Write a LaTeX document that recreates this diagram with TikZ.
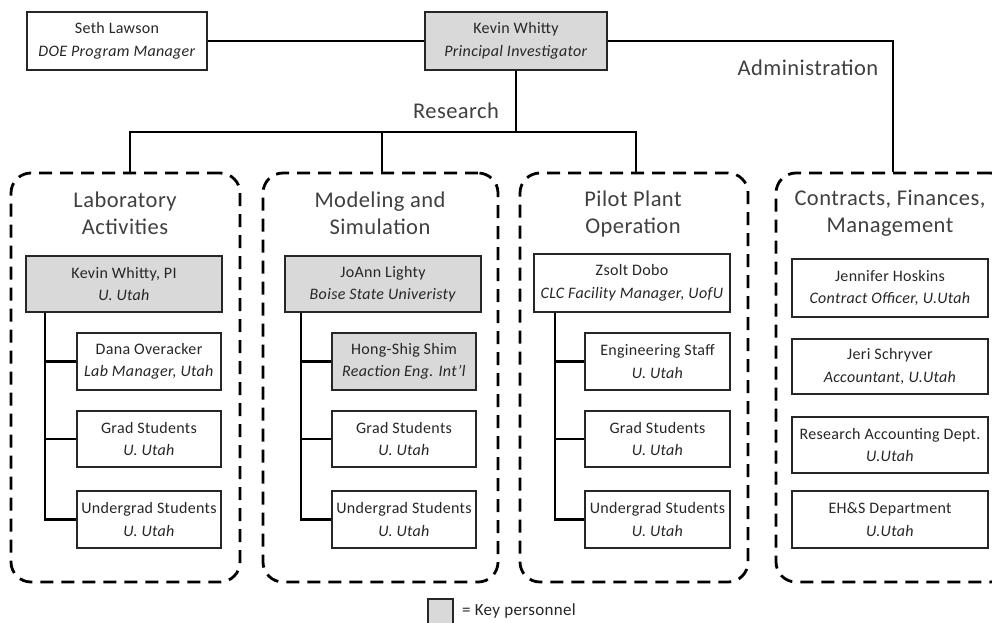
\documentclass[tikz,border=0pt]{standalone}
\usepackage{fontspec}
\setmainfont{Carlito}[LetterSpace=2]
\definecolor{keygray}{HTML}{D9D9D9}
\definecolor{txt}{HTML}{262626}
\definecolor{headtxt}{HTML}{404040}
\begin{document}
\begin{tikzpicture}[x=1pt,y=-1pt,
  pbox/.style={draw=black!85, line width=1.1pt, rectangle, inner sep=0pt, align=center,
    text=txt, font=\fontsize{16}{22.5}\selectfont},
  keybox/.style={pbox, fill=keygray},
  grp/.style={draw=black, line width=2.8pt, rectangle, rounded corners=20pt,
    dash pattern=on 13pt off 8pt, inner sep=0pt},
  head/.style={align=center, text=headtxt, font=\fontsize{22.5}{27}\selectfont, inner sep=0pt},
  conn/.style={draw=black, line width=2.8pt},
]
\clip (0,0) rectangle (992,623);
\fill[white] (0,0) rectangle (992,623);

% groups
\node[grp, minimum width=229pt, minimum height=409pt] (g1) at (125.5,377.5) {};
\node[grp, minimum width=235pt, minimum height=409pt] (g2) at (380.5,377.5) {};
\node[grp, minimum width=228pt, minimum height=409pt] (g3) at (634,377.5) {};
\node[grp, minimum width=234pt, minimum height=409pt] (g4) at (893,377.5) {};

\node[head] (h1) at (125,213.5) {Laboratory\\Activities};
\node[head] (h2) at (380,213.5) {Modeling and\\Simulation};
\node[head] (h3) at (633,213.5) {Pilot Plant\\Operation};
\node[head] (h4) at (890,213.5) {Contracts, Finances,\\Management};

% top
\node[pbox, minimum width=180pt, minimum height=58pt] (seth) at (117,41) {Seth Lawson\\\textit{DOE Program Manager}};
\node[keybox, minimum width=182pt, minimum height=58pt] (kev) at (516,41) {Kevin Whitty\\\textit{Principal Investigator}};
\node[head] (res) at (456,111) {Research};
\node[head] (adm) at (808,68) {Administration};

\draw[conn] (seth.east) -- (kev.west);
\draw[conn] (kev.east) -| (g4.north);

\coordinate (rj) at (516,132);
\coordinate (r1) at (130,132);
\coordinate (r2) at (382,132);
\coordinate (r3) at (636,132);
\draw[conn] (kev.south) -- (rj);
\draw[conn] (r1 |- g1.north) -- (r1) -- (r3) -- (r3 |- g3.north);
\draw[conn] (r2) -- (r2 |- g2.north);

% column 1
\node[keybox, minimum width=196pt, minimum height=56pt] (kw) at (124,284) {Kevin Whitty, PI\\\textit{U. Utah}};
\node[pbox, minimum width=144pt, minimum height=57pt] (dana) at (149,361.5) {Dana Overacker\\\textit{Lab Manager, Utah}};
\node[pbox, minimum width=144pt, minimum height=56pt] (gs1) at (149,439) {Grad Students\\\textit{U. Utah}};
\node[pbox, minimum width=144pt, minimum height=57pt] (us1) at (149,519.5) {Undergrad Students\\\textit{U. Utah}};
\coordinate (t1) at (45,0);
\draw[conn] (t1 |- kw.south) |- (us1.west);
\draw[conn] (t1 |- dana.west) -- (dana.west);
\draw[conn] (t1 |- gs1.west) -- (gs1.west);

% column 2
\node[keybox, minimum width=196pt, minimum height=56pt] (jo) at (383,284) {JoAnn Lighty\\\textit{Boise State Univeristy}};
\node[keybox, minimum width=144pt, minimum height=57pt] (hs) at (404,361.5) {Hong-Shig Shim\\\textit{Reaction Eng. Int'l}};
\node[pbox, minimum width=144pt, minimum height=56pt] (gs2) at (404,439) {Grad Students\\\textit{U. Utah}};
\node[pbox, minimum width=144pt, minimum height=57pt] (us2) at (404,519.5) {Undergrad Students\\\textit{U. Utah}};
\coordinate (t2) at (301,0);
\draw[conn] (t2 |- jo.south) |- (us2.west);
\draw[conn] (t2 |- hs.west) -- (hs.west);
\draw[conn] (t2 |- gs2.west) -- (gs2.west);

% column 3
\node[pbox, minimum width=196pt, minimum height=58pt] (zd) at (632,283) {Zsolt Dobo\\\textit{CLC Facility Manager, UofU}};
\node[pbox, minimum width=145pt, minimum height=57pt] (es) at (657.5,361.5) {Engineering Staff\\\textit{U. Utah}};
\node[pbox, minimum width=145pt, minimum height=56pt] (gs3) at (657.5,439) {Grad Students\\\textit{U. Utah}};
\node[pbox, minimum width=145pt, minimum height=57pt] (us3) at (657.5,519.5) {Undergrad Students\\\textit{U. Utah}};
\coordinate (t3) at (555,0);
\draw[conn] (t3 |- zd.south) |- (us3.west);
\draw[conn] (t3 |- es.west) -- (es.west);
\draw[conn] (t3 |- gs3.west) -- (gs3.west);

% column 4
\node[pbox, minimum width=196pt, minimum height=58pt] (jh) at (890,288) {Jennifer Hoskins\\\textit{Contract Officer, U.Utah}};
\node[pbox, minimum width=196pt, minimum height=55pt] (js) at (890,366.5) {Jeri Schryver\\\textit{Accountant, U.Utah}};
\node[pbox, minimum width=196pt, minimum height=56pt] (ra) at (890,445) {Research Accounting Dept.\\\textit{U.Utah}};
\node[pbox, minimum width=196pt, minimum height=57pt] (eh) at (890,519.5) {EH\&S Department\\\textit{U.Utah}};

% legend
\node[keybox, minimum width=25pt, minimum height=26pt] (key) at (440.5,612) {};
\node[anchor=west, text=txt, font=\fontsize{17}{20}\selectfont, inner sep=0pt] (keylbl) at (462,611) {= Key personnel};
\end{tikzpicture}
\end{document}
